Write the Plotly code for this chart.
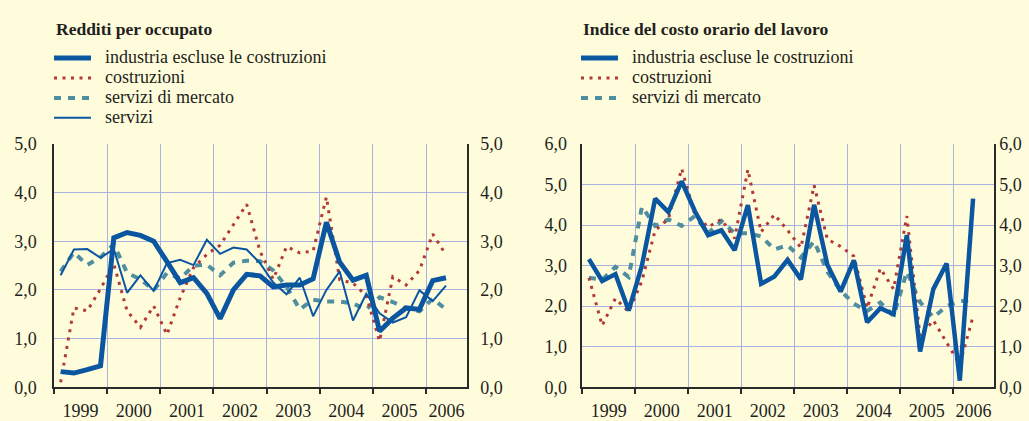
import plotly.graph_objects as go

# ---- data: quarterly growth rates, 1999T1 - 2006T2 ----
anni = [1999, 2000, 2001, 2002, 2003, 2004, 2005, 2006]
etichette_anni = ["1999", "2000", "2001", "2002", "2003", "2004", "2005", "2006"]
periodi = [f"{a}T{q}" for a in anni for q in (1, 2, 3, 4)][:30]

# Redditi per occupato
red_industria = [0.32, 0.29, 0.36, 0.44, 3.07, 3.18, 3.12, 3.00,
                 2.58, 2.15, 2.25, 1.93, 1.41, 2.00, 2.32, 2.29,
                 2.06, 2.10, 2.10, 2.23, 3.39, 2.57, 2.20, 2.30,
                 1.15, 1.42, 1.63, 1.60, 2.19, 2.25]
red_costruzioni = [0.10, 1.63, 1.57, 2.02, 2.53, 1.57, 1.23, 1.67,
                   1.08, 1.84, 2.46, 2.73, 2.92, 3.33, 3.76, 2.80,
                   2.22, 2.89, 2.76, 2.80, 3.91, 2.21, 2.14, 1.88,
                   0.95, 2.27, 2.10, 2.40, 3.15, 2.72]
red_serv_mercato = [2.38, 2.77, 2.51, 2.67, 2.94, 2.35, 2.22, 1.99,
                    2.35, 2.23, 2.50, 2.52, 2.30, 2.56, 2.60, 2.59,
                    2.40, 2.06, 1.60, 1.80, 1.76, 1.76, 1.72, 1.60,
                    1.85, 1.75, 1.62, 1.56, 1.82, 1.60]
red_servizi = [2.30, 2.83, 2.84, 2.66, 2.84, 1.94, 2.30, 1.98,
               2.55, 2.62, 2.51, 3.03, 2.74, 2.87, 2.83, 2.55,
               2.15, 1.91, 2.25, 1.46, 2.00, 2.38, 1.37, 1.92,
               1.52, 1.33, 1.44, 1.99, 1.77, 2.09]

# Indice del costo orario del lavoro
cl_industria = [3.16, 2.62, 2.79, 1.89, 3.00, 4.65, 4.32, 5.08,
                4.34, 3.75, 3.87, 3.38, 4.49, 2.55, 2.73, 3.14,
                2.66, 4.50, 3.02, 2.36, 3.13, 1.60, 1.95, 1.80,
                3.75, 0.88, 2.42, 3.05, 0.16, 4.65]
cl_costruzioni = [2.70, 1.52, 2.19, 1.86, 2.62, 3.87, 4.15, 5.39,
                  4.26, 3.95, 4.14, 3.67, 5.37, 3.83, 4.26, 3.87,
                  3.44, 4.98, 3.65, 3.47, 3.23, 1.95, 2.93, 2.42,
                  4.22, 1.25, 1.65, 1.12, 0.56, 1.75]
cl_serv_mercato = [2.70, 2.65, 2.97, 2.72, 4.45, 3.98, 4.14, 3.98,
                   4.22, 3.80, 4.10, 3.80, 3.80, 3.72, 3.40, 3.50,
                   3.20, 3.60, 2.85, 2.38, 2.06, 1.88, 2.09, 1.76,
                   2.85, 2.10, 1.72, 2.00, 2.12, 2.15]

tick_sx = [0, 1, 2, 3, 4, 5]
tick_sx_testo = ["0,0", "1,0", "2,0", "3,0", "4,0", "5,0"]
tick_dx = [0, 1, 2, 3, 4, 5, 6]
tick_dx_testo = ["0,0", "1,0", "2,0", "3,0", "4,0", "5,0", "6,0"]

# ---- style ----
W, H = 1029, 421
CREMA = "#FFFCDC"
GRIGLIA = "#A9B3E0"
ASSE = "#2A2A2A"
TESTO = "#231F20"
BLU = "#0A56A0"
ROSSO = "#B23A36"
VERDE = "#4E8E9E"
FONT = "Liberation Serif"
X_FINE = 2006.77


def posizione(periodo):
    anno, q = periodo.split("T")
    return int(anno) + (int(q) - 0.5) / 4


xq = [posizione(p) for p in periodi]
centri_anni = [min(a + 0.5, (a + X_FINE) / 2) for a in anni]

stili = {
    "industria": dict(color=BLU, width=5),
    "industria_dx": dict(color=BLU, width=4.5),
    "costruzioni": dict(color=ROSSO, width=3, dash="3px,5.5px"),
    "mercato": dict(color=VERDE, width=4, dash="7px,7px"),
    "servizi": dict(color=BLU, width=2),
}

fig = go.Figure()


def serie(y, stile, nome, xa, ya):
    fig.add_trace(go.Scatter(x=xq, y=y, mode="lines", name=nome,
                             line=stili[stile], xaxis=xa, yaxis=ya,
                             showlegend=False, hoverinfo="skip"))


# left panel
serie(red_serv_mercato, "mercato", "servizi di mercato", "x", "y")
serie(red_costruzioni, "costruzioni", "costruzioni", "x", "y")
serie(red_servizi, "servizi", "servizi", "x", "y")
serie(red_industria, "industria", "industria escluse le costruzioni", "x", "y")
# right panel
serie(cl_serv_mercato, "mercato", "servizi di mercato", "x2", "y2")
serie(cl_costruzioni, "costruzioni", "costruzioni", "x2", "y2")
serie(cl_industria, "industria_dx", "industria escluse le costruzioni", "x2", "y2")
# empty traces bound to the mirrored right-hand value axes
fig.add_trace(go.Scatter(x=[None], y=[None], xaxis="x", yaxis="y3", showlegend=False))
fig.add_trace(go.Scatter(x=[None], y=[None], xaxis="x2", yaxis="y4", showlegend=False))

tickfont = dict(family=FONT, size=18, color=TESTO)
dom_y = [(H - 397) / H, (H - 141) / H]


def asse_x(x0, x1):
    return dict(domain=[x0 / W, x1 / W], range=[1999, X_FINE],
                tickmode="array", tickvals=centri_anni, ticktext=etichette_anni,
                ticks="", showgrid=False, zeroline=False,
                showline=True, linecolor=ASSE, linewidth=1.5,
                tickfont=tickfont, ticklabelstandoff=6,
                minor=dict(tickmode="array", tickvals=anni, ticks="outside",
                           ticklen=5, tickwidth=1.5, tickcolor=ASSE,
                           showgrid=True, gridcolor=GRIGLIA, gridwidth=1))


def asse_y(vals, testo, top, anchor, side="left", overlay=None, standoff=12, grid=True):
    d = dict(domain=dom_y, range=[0, top], tickmode="array", tickvals=vals,
             ticktext=testo, ticks="", showgrid=grid, gridcolor=GRIGLIA,
             gridwidth=1, zeroline=False, showline=True, linecolor=ASSE,
             linewidth=1.5, tickfont=tickfont, anchor=anchor, side=side,
             ticklabelstandoff=standoff)
    if overlay:
        d["overlaying"] = overlay
    return d


fig.update_layout(
    width=W, height=H,
    margin=dict(l=0, r=0, t=0, b=0),
    paper_bgcolor=CREMA, plot_bgcolor=CREMA,
    showlegend=False,
    xaxis=asse_x(54, 467),
    xaxis2=asse_x(582.3, 994),
    yaxis=asse_y(tick_sx, tick_sx_testo, 5, "x", standoff=12),
    yaxis3=asse_y(tick_sx, tick_sx_testo, 5, "x", side="right", overlay="y",
                  standoff=8, grid=False),
    yaxis2=asse_y(tick_dx, tick_dx_testo, 6, "x2", standoff=10),
    yaxis4=asse_y(tick_dx, tick_dx_testo, 6, "x2", side="right", overlay="y2",
                  standoff=0, grid=False),
)

# ---- titles and legends above each panel ----
annotazioni = []
forme = []


def py(ypix):
    return (H - ypix) / H


def legenda(x0, titolo, voci):
    annotazioni.append(dict(x=x0 / W, y=py(20), xref="paper", yref="paper",
                            text=f"<b>{titolo}</b>", showarrow=False,
                            xanchor="left", yanchor="middle",
                            font=dict(family=FONT, size=17.5, color=TESTO)))
    for i, (stile, nome) in enumerate(voci):
        yrow = 50.5 + 21 * i
        st = stili[stile]
        forme.append(dict(type="line", xref="paper", yref="paper",
                          x0=x0 / W, x1=(x0 + 37) / W, y0=py(yrow), y1=py(yrow),
                          line=dict(color=st["color"], width=st["width"],
                                    dash=st.get("dash", "solid"))))
        annotazioni.append(dict(x=(x0 + 49) / W, y=py(yrow - 1), xref="paper",
                                yref="paper", text=nome, showarrow=False,
                                xanchor="left", yanchor="middle",
                                font=dict(family=FONT, size=18, color=TESTO)))


legenda(54, "Redditi per occupato",
        [("industria", "industria escluse le costruzioni"),
         ("costruzioni", "costruzioni"),
         ("mercato", "servizi di mercato"),
         ("servizi", "servizi")])
legenda(581, "Indice del costo orario del lavoro",
        [("industria", "industria escluse le costruzioni"),
         ("costruzioni", "costruzioni"),
         ("mercato", "servizi di mercato")])

fig.update_layout(annotations=annotazioni, shapes=forme)

fig.write_html("out.html")
